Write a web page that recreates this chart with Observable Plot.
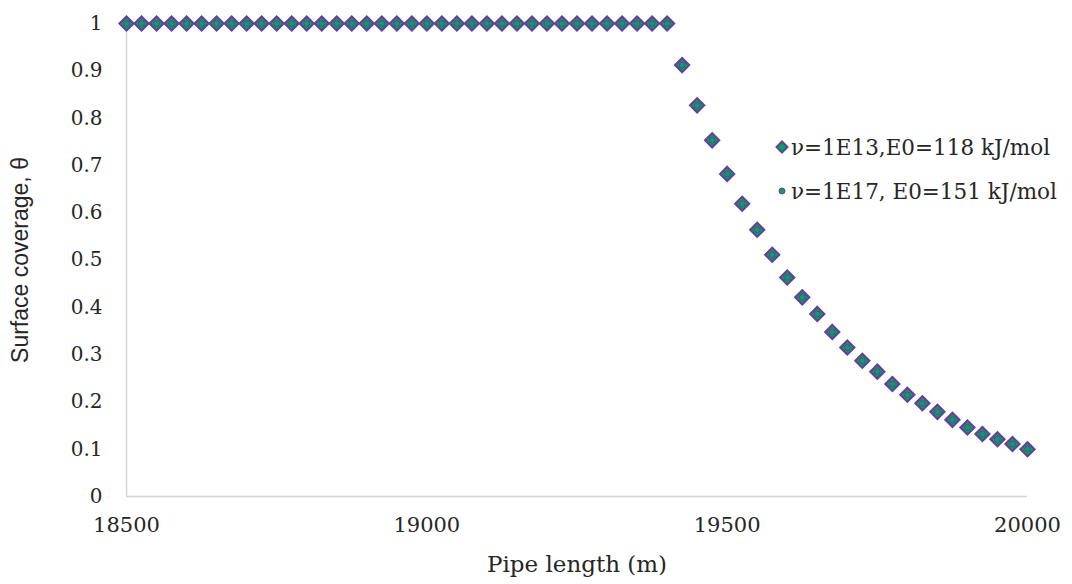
<!DOCTYPE html>
<html><head><meta charset="utf-8">
<script src="https://cdn.jsdelivr.net/npm/d3@7"></script>
<script src="https://cdn.jsdelivr.net/npm/@observablehq/plot@0.6"></script>
<style>
body{margin:0;background:#fff;}
#wrap{position:relative;width:1072px;height:584px;}
#legend{position:absolute;left:775px;top:125px;font-family:"DejaVu Serif",serif;font-size:21.5px;color:#262626;}
.item{display:flex;align-items:center;height:44px;white-space:nowrap;}
.item svg{margin-right:2px;}
</style></head><body><div id="wrap"><div id="legend"></div></div>
<script>
const pipeLength = [18500,18525,18550,18575,18600,18625,18650,18675,18700,18725,18750,18775,18800,18825,18850,18875,18900,18925,18950,18975,19000,19025,19050,19075,19100,19125,19150,19175,19200,19225,19250,19275,19300,19325,19350,19375,19400,19425,19450,19475,19500,19525,19550,19575,19600,19625,19650,19675,19700,19725,19750,19775,19800,19825,19850,19875,19900,19925,19950,19975,20000];
const coverageA = [1,1,1,1,1,1,1,1,1,1,1,1,1,1,1,1,1,1,1,1,1,1,1,1,1,1,1,1,1,1,1,1,1,1,1,1,1,0.912,0.827,0.753,0.682,0.619,0.564,0.511,0.463,0.421,0.386,0.348,0.315,0.287,0.264,0.238,0.215,0.197,0.179,0.162,0.146,0.132,0.121,0.111,0.1];
const coverageB = [1,1,1,1,1,1,1,1,1,1,1,1,1,1,1,1,1,1,1,1,1,1,1,1,1,1,1,1,1,1,1,1,1,1,1,1,1,0.912,0.827,0.753,0.682,0.619,0.564,0.511,0.463,0.421,0.386,0.348,0.315,0.287,0.264,0.238,0.215,0.197,0.179,0.162,0.146,0.132,0.121,0.111,0.1];
const seriesNames = ["ν=1E13,E0=118 kJ/mol", "ν=1E17, E0=151 kJ/mol"];
const xTicks = [18500, 19000, 19500, 20000];
const yTicks = [0, 0.1, 0.2, 0.3, 0.4, 0.5, 0.6, 0.7, 0.8, 0.9, 1];
const xLabel = "Pipe length (m)";
const yLabel = "Surface coverage, θ";

const purple = "#5f4399";
const green = "#07a35e";
const serif = "DejaVu Serif";
const ink = "#262626";

const dataA = pipeLength.map((x, i) => ({x, y: coverageA[i]}));
const dataB = pipeLength.map((x, i) => ({x, y: coverageB[i]}));

const chart = Plot.plot({
  width: 1072,
  height: 584,
  marginLeft: 126,
  marginRight: 45,
  marginTop: 23,
  marginBottom: 88,
  style: {background: "#fff", color: ink},
  x: {domain: [18500, 20000]},
  y: {domain: [0, 1]},
  marks: [
    Plot.ruleX([18500], {stroke: "#d4d4d4", strokeWidth: 1.5}),
    Plot.ruleY([0], {stroke: "#d4d4d4", strokeWidth: 1.5}),
    Plot.axisX({ticks: xTicks, tickSize: 0, tickPadding: 21, tickFormat: d => String(d), fontSize: 21, fontFamily: serif, fill: ink, label: null}),
    Plot.axisY({ticks: yTicks, tickSize: 0, tickPadding: 24, tickFormat: d => String(Math.round(d * 10) / 10), fontSize: 20, fontFamily: serif, fill: ink, label: null}),
    Plot.text([xLabel], {frameAnchor: "bottom", dy: 75, text: d => d, fontSize: 23, fontFamily: serif, fill: ink}),
    Plot.text([yLabel], {frameAnchor: "left", textAnchor: "middle", rotate: -90, dx: -106, text: d => d, fontSize: 23, fontFamily: "Liberation Sans", fill: ink}),
    Plot.dot(dataA, {x: "x", y: "y", symbol: "diamond2", r: 6.3, fill: green, stroke: purple, strokeWidth: 2.2}),
    Plot.dot(dataB, {x: "x", y: "y", symbol: "circle", r: 2.9, fill: green, stroke: purple, strokeWidth: 1})
  ]
});
document.getElementById("wrap").prepend(chart);

const legend = document.getElementById("legend");
const markers = [
  `<svg width="14" height="14" viewBox="-7 -7 14 14"><polygon points="0,-5.5 5.5,0 0,5.5 -5.5,0" fill="${green}" stroke="${purple}" stroke-width="2"/></svg>`,
  `<svg width="14" height="14" viewBox="-7 -7 14 14"><circle r="3" fill="${green}" stroke="${purple}" stroke-width="1"/></svg>`
];
seriesNames.forEach((name, i) => {
  const div = document.createElement("div");
  div.className = "item";
  div.innerHTML = markers[i] + `<span>${name}</span>`;
  legend.appendChild(div);
});
</script></body></html>
